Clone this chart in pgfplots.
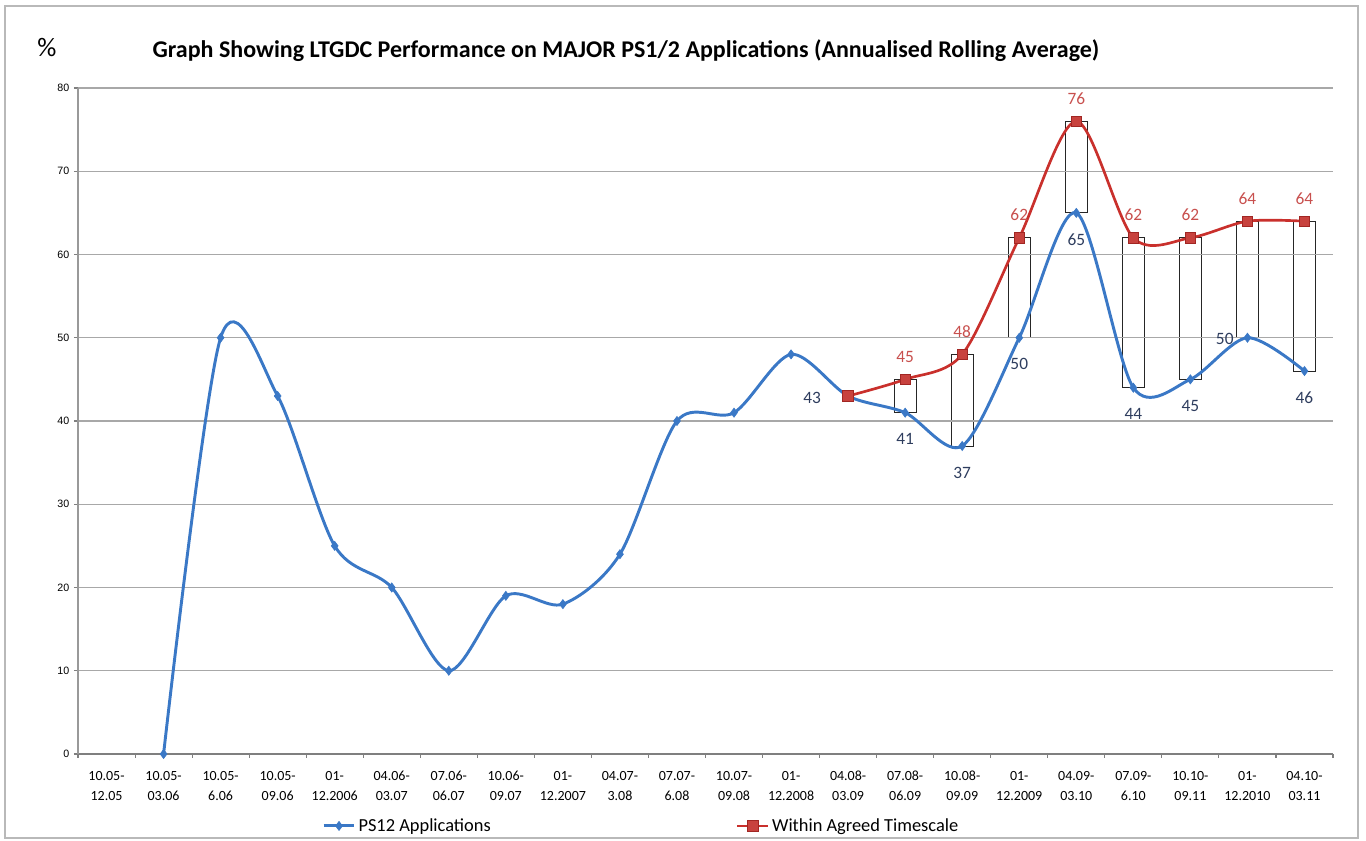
\documentclass[border=0pt]{standalone}
\usepackage{pgfplots}
\pgfplotsset{compat=1.18}
\usepackage{pgfplotstable}
\usepackage{fontspec}
\setmainfont{Carlito}
\newfontfamily\arialf{Liberation Sans}
\definecolor{blueline}{HTML}{3A78C6}
\definecolor{redline}{HTML}{C9302C}
\definecolor{redmark}{HTML}{C8423E}
\definecolor{bluelab}{HTML}{2E3D5E}
\definecolor{redlab}{HTML}{C8504E}
\definecolor{gridc}{HTML}{A8A8A8}
\definecolor{axisc}{HTML}{7F7F7F}

\pgfplotstableread{
x y
1 0
2 50
3 43
4 25
5 20
6 10
7 19
8 18
9 24
10 40
11 41
12 48
13 43
14 41
15 37
16 50
17 65
18 44
19 45
20 50
21 46
}\bluedata

\pgfplotstableread{
x y
13 43
14 45
15 48
16 62
17 76
18 62
19 62
20 64
21 64
}\reddata

\pgfplotstableread{
x lo h
14 41 4
15 37 11
16 50 12
17 65 11
18 44 18
19 45 17
20 50 14
21 46 18
}\boxdata

\pgfplotstableread{
x y lab
14 41 41
15 37 37
16 50 50
17 65 65
18 44 44
19 45 45
21 46 46
}\bluebelow

\begin{document}
\begin{tikzpicture}
\useasboundingbox (0,0) rectangle (1024.5pt,630.75pt);
\draw[gray!55, line width=0.9pt] (3.75pt,2.25pt) rectangle (1018.5pt,626.25pt);
\node[font=\fontsize{18}{21}\selectfont\bfseries] at (469.5pt,593pt) {Graph Showing LTGDC Performance on MAJOR PS1/2 Applications (Annualised Rolling Average)};
\node[font=\fontsize{20}{22}\selectfont] at (35.25pt,595pt) {\%};
% boxes between the two series
\begin{axis}[at={(58.5pt,65.25pt)}, anchor=south west, scale only axis,
  width=941.25pt, height=499.5pt, xmin=-0.5, xmax=21.5, ymin=0, ymax=80,
  hide axis, ybar stacked, bar width=16.5pt]
\addplot[draw=none, fill=none] table[x=x,y=lo] \boxdata;
\addplot[draw=black!85, fill=none, line width=0.7pt] table[x=x,y=h] \boxdata;
\end{axis}
\begin{axis}[at={(58.5pt,65.25pt)}, anchor=south west, scale only axis,
  width=941.25pt, height=499.5pt, xmin=-0.5, xmax=21.5, ymin=0, ymax=80,
  axis x line=bottom, axis y line=left,
  x axis line style={-, draw=axisc, line width=1.6pt},
  y axis line style={-, draw=axisc!80, line width=1.1pt},
  xtick={0,...,21},
  xticklabels={{10.05-\\12.05},{10.05-\\03.06},{10.05-\\6.06},{10.05-\\09.06},{01-\\12.2006},{04.06-\\03.07},{07.06-\\06.07},{10.06-\\09.07},{01-\\12.2007},{04.07-\\3.08},{07.07-\\6.08},{10.07-\\09.08},{01-\\12.2008},{04.08-\\03.09},{07.08-\\06.09},{10.08-\\09.09},{01-\\12.2009},{04.09-\\03.10},{07.09-\\6.10},{10.10-\\09.11},{01-\\12.2010},{04.10-\\03.11}},
  xticklabel style={align=center, font=\fontsize{10.5}{15}\selectfont, yshift=-6.5pt},
  major x tick style={draw=none},
  minor xtick={-0.5,0.5,...,21.5},
  minor x tick style={draw=axisc, line width=0.8pt},
  tick align=outside, minor tick length=3pt, major tick length=3pt,
  ytick={0,10,...,80},
  y tick style={draw=axisc, line width=0.8pt},
  yticklabel style={font=\arialf\fontsize{8}{9}\selectfont},
  /pgf/number format/assume math mode=true,
  ymajorgrids, grid style={draw=gridc, line width=0.9pt},
  clip=false,
  legend columns=2,
  legend style={at={(0.1944,-0.108)}, anchor=west, draw=none, fill=none,
    font=\fontsize{13.8}{16}\selectfont, inner sep=0pt,
    /tikz/every even column/.append style={column sep=182pt}},
  legend image code/.code={\draw[mark repeat=2, mark phase=2, #1] plot coordinates {(0pt,0pt) (11.5pt,0pt) (23pt,0pt)};},
]
\addplot[blueline, line width=2.2pt, smooth, tension=0.5, mark=diamond*, mark size=3.4pt,
  mark options={fill=blueline, draw=blueline, line width=0.5pt}] table[x=x,y=y] \bluedata;
\addlegendentry{PS12 Applications}
\addplot[redline, line width=2pt, smooth, tension=0.5, mark=square*, mark size=4pt,
  mark options={fill=redmark, draw=redline!80!black, line width=0.5pt}] table[x=x,y=y] \reddata;
\addlegendentry{Within Agreed Timescale}
% data labels
\addplot[draw=none, mark=none, nodes near coords, point meta=explicit symbolic,
  nodes near coords style={anchor=center, yshift=17pt, text=redlab, font=\fontsize{13}{15}\selectfont}]
  table[x=x,y=y,meta=y] {
x y
14 45
15 48
16 62
17 76
18 62
19 62
20 64
21 64
};
\addplot[draw=none, mark=none, nodes near coords, point meta=explicit symbolic,
  nodes near coords style={anchor=center, yshift=-20pt, text=bluelab, font=\fontsize{13}{15}\selectfont}]
  table[x=x,y=y,meta=lab] \bluebelow;
\addplot[draw=none, mark=none, nodes near coords, point meta=explicit symbolic,
  nodes near coords style={anchor=center, xshift=-27pt, yshift=-1.5pt, text=bluelab, font=\fontsize{13}{15}\selectfont}]
  table[x=x,y=y,meta=y] {
x y
13 43
};
\addplot[draw=none, mark=none, nodes near coords, point meta=explicit symbolic,
  nodes near coords style={anchor=center, xshift=-17pt, yshift=-1pt, text=bluelab, font=\fontsize{13}{15}\selectfont}]
  table[x=x,y=y,meta=y] {
x y
20 50
};
\end{axis}
\end{tikzpicture}
\end{document}
